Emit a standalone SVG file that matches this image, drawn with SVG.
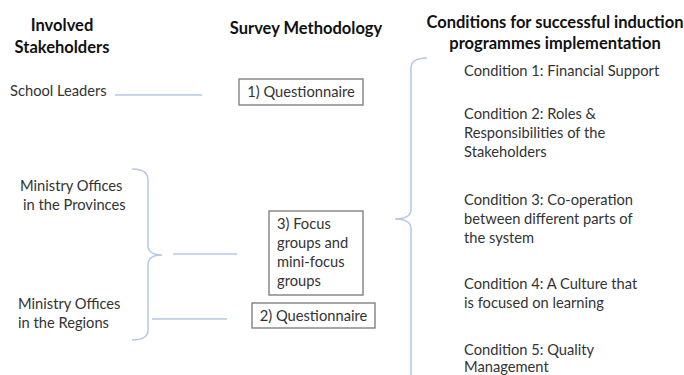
<svg xmlns="http://www.w3.org/2000/svg" width="684" height="375" viewBox="0 0 684 375">
<style>
.h{font-family:Lato,"Liberation Sans",sans-serif;font-weight:bold;font-size:16.5px;fill:#111;text-anchor:middle}
.t{font-family:Lato,"Liberation Sans",sans-serif;font-size:14.7px;fill:#333}
.box{fill:#fff;stroke:#777;stroke-width:1.3}
.ln{fill:none;stroke:#b3c9e6;stroke-width:1.5}
</style>
<rect width="684" height="375" fill="#fff"/>
<g id="headings">
<text class="h" x="62" y="31">Involved</text>
<text class="h" x="62" y="53">Stakeholders</text>
<text class="h" x="306" y="34">Survey Methodology</text>
<text class="h" x="555" y="28">Conditions for successful induction</text>
<text class="h" x="555" y="49">programmes implementation</text>
</g>
<g id="connectors">
<line class="ln" x1="115" y1="95" x2="202" y2="95"/>
<path class="ln" d="M132,169 Q148,169 148,180 L148,245 Q148,255 162,255 Q148,255 148,265 L148,330 Q148,340 132,340"/>
<line class="ln" x1="173" y1="254" x2="237" y2="254"/>
<line class="ln" x1="152" y1="319" x2="227" y2="319"/>
<path class="ln" d="M427,58 Q411,58 411,68 L411,209 Q411,219 395,219 Q411,219 411,229 L411,376"/>
</g>
<g id="school-leaders"><text class="t" x="10" y="96">School Leaders</text></g>
<g id="ministry-provinces">
<text class="t" x="20" y="191">Ministry Offices</text>
<text class="t" x="23" y="210">in the Provinces</text>
</g>
<g id="ministry-regions">
<text class="t" x="18" y="309">Ministry Offices</text>
<text class="t" x="18" y="328">in the Regions</text>
</g>
<g id="questionnaire-1">
<rect class="box" x="239" y="79" width="124" height="26"/>
<text class="t" x="301" y="97" text-anchor="middle">1) Questionnaire</text>
</g>
<g id="focus-groups">
<rect class="box" x="269" y="211" width="94" height="84"/>
<text class="t" x="277" y="229">3) Focus</text>
<text class="t" x="277" y="248">groups and</text>
<text class="t" x="277" y="267">mini-focus</text>
<text class="t" x="277" y="286">groups</text>
</g>
<g id="questionnaire-2">
<rect class="box" x="252" y="303" width="123" height="25"/>
<text class="t" x="313.500" y="320.500" text-anchor="middle">2) Questionnaire</text>
</g>
<g id="condition-1"><text class="t" x="464" y="76">Condition 1: Financial Support</text></g>
<g id="condition-2">
<text class="t" x="464" y="119">Condition 2: Roles &amp;</text>
<text class="t" x="464" y="138">Responsibilities of the</text>
<text class="t" x="464" y="157">Stakeholders</text>
</g>
<g id="condition-3">
<text class="t" x="464" y="205">Condition 3: Co-operation</text>
<text class="t" x="464" y="224">between different parts of</text>
<text class="t" x="464" y="243">the system</text>
</g>
<g id="condition-4">
<text class="t" x="464" y="289">Condition 4: A Culture that</text>
<text class="t" x="464" y="308">is focused on learning</text>
</g>
<g id="condition-5">
<text class="t" x="464" y="355">Condition 5: Quality</text>
<text class="t" x="464" y="372">Management</text>
</g>
</svg>
